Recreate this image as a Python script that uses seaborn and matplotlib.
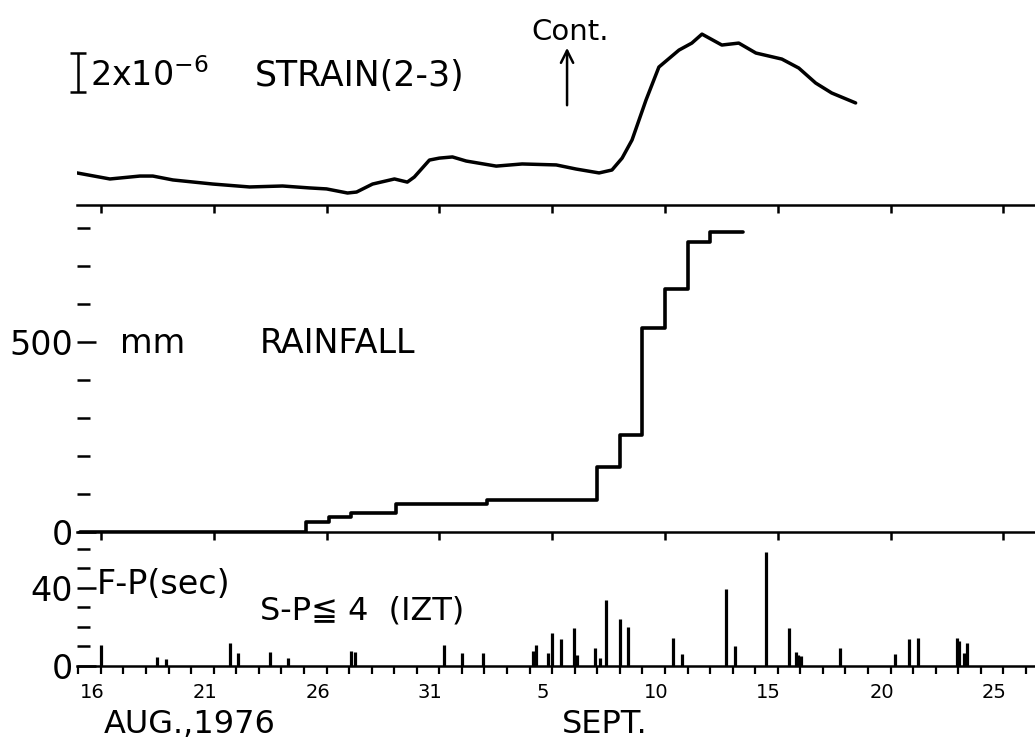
import matplotlib
matplotlib.use('Agg')
import matplotlib.pyplot as plt
import matplotlib.transforms as mtransforms
from matplotlib.ticker import MultipleLocator
import seaborn as sns

# === DATOS ===
# dias contados desde el 1 de agosto (5 de sept. = 36)
strain_day = [14.94, 16.40, 17.73, 18.30, 19.19, 20.96, 22.59, 24.05, 25.25, 26.00,
              26.93, 27.33, 28.04, 29.01, 29.58, 29.89, 30.56, 31.00, 31.58, 32.19,
              33.52, 34.67, 36.18, 37.06, 38.08, 38.65, 39.10, 39.54, 40.16, 40.73,
              41.62, 42.19, 42.64, 43.52, 44.27, 45.03, 46.18, 46.93, 47.68, 48.39, 49.45]
# deformacion en unidades de 1e-6 (relativa)
strain_val = [1.03, 0.72, 0.87, 0.87, 0.67, 0.46, 0.31, 0.36, 0.26, 0.21,
              0.00, 0.05, 0.46, 0.72, 0.56, 0.82, 1.69, 1.79, 1.85, 1.64,
              1.38, 1.49, 1.44, 1.23, 1.03, 1.18, 1.79, 2.72, 4.77, 6.46,
              7.33, 7.69, 8.15, 7.59, 7.69, 7.18, 6.87, 6.41, 5.64, 5.13, 4.62]

# lluvia acumulada (mm)
rain_day = [15.07, 25.1, 26.1, 27.1, 29.1, 33.1, 38.0, 39.0, 40.0, 41.0, 42.0, 43.0, 44.45]
rain_mm = [0, 26, 39, 50, 74, 84, 171, 255, 537, 640, 763, 789, 789]

# F-P (sec) de los sismos con S-P <= 4
fp_day = [16.0, 18.48, 18.88, 21.71, 22.06, 23.48, 24.27, 27.10, 27.28, 31.22,
          32.02, 32.95, 35.16, 35.29, 35.82, 36.00, 36.40, 36.97, 37.10, 37.90,
          38.12, 38.39, 39.00, 39.36, 41.35, 41.75, 43.70, 44.10, 45.47, 46.49,
          46.80, 46.88, 47.02, 48.74, 51.18, 51.80, 52.20, 53.96, 54.05, 54.27, 54.40]
fp_sec = [10.6, 4.5, 3.5, 11.6, 6.6, 7.0, 4.0, 7.5, 7.0, 11.0,
          6.6, 6.6, 7.5, 11.0, 6.6, 17.0, 14.0, 19.7, 5.5, 9.0,
          4.0, 33.8, 24.2, 20.2, 14.6, 6.0, 39.4, 10.0, 58.6, 19.7,
          7.0, 5.5, 5.0, 9.0, 6.0, 13.6, 14.6, 14.6, 13.0, 6.6, 12.0]

major_days = [16, 21, 26, 31, 36, 41, 46, 51, 56]
major_labels = ['16', '21', '26', '31', '5', '10', '15', '20', '25']

# === ESTILO ===
sns.set_theme(style='ticks')
plt.rcParams['font.family'] = ['DejaVu Sans', 'Noto Sans CJK JP']
plt.rcParams['axes.linewidth'] = 1.8
for clave in ['text.color', 'axes.labelcolor', 'xtick.color', 'ytick.color',
              'xtick.labelcolor', 'ytick.labelcolor', 'axes.edgecolor']:
    plt.rcParams[clave] = 'black'

W, H = 1035, 743
fig = plt.figure(figsize=(W / 100, H / 100), dpi=100)


def caja(arriba, abajo):
    return [77 / W, 1 - abajo / H, 1 - 77 / W, (abajo - arriba) / H]


ax_top = fig.add_axes(caja(0, 205))
ax_mid = fig.add_axes(caja(205, 532))
ax_bot = fig.add_axes(caja(532, 666))
xlim = (14.94, 57.4)

# === PANEL SUPERIOR: STRAIN ===
sns.lineplot(x=strain_day, y=strain_val, ax=ax_top, color='black', lw=2.5)
ax_top.set_xlim(*xlim)
ax_top.set_ylim(-0.615, 9.9)
ax_top.set_yticks([])
ax_top.set_xticks(major_days)
ax_top.set_xticklabels([])
ax_top.tick_params(axis='x', direction='out', length=6, width=1.8)
for s in ['top', 'left', 'right']:
    ax_top.spines[s].set_visible(False)

# barra de escala 2x10^-6
eb = ax_top.errorbar([14.97], [6.18], yerr=[[1.0], [1.0]], fmt='none', ecolor='black',
                     elinewidth=1.8, capsize=6, capthick=1.8)
for art in list(eb.lines[1]) + list(eb.lines[2]):
    art.set_clip_on(False)

ax_top.annotate('', xy=(36.66, 7.59), xytext=(36.66, 4.36),
                arrowprops=dict(arrowstyle='->', lw=1.8, color='black', mutation_scale=22))

# === PANEL MEDIO: RAINFALL ===
sns.lineplot(x=rain_day, y=rain_mm, ax=ax_mid, drawstyle='steps-post', color='black', lw=2.6)
ax_mid.set_xlim(*xlim)
ax_mid.set_ylim(0, 860)
ax_mid.set_yticks([0, 500])
ax_mid.yaxis.set_minor_locator(MultipleLocator(100))
ax_mid.set_xticks(major_days)
ax_mid.set_xticklabels([])
ax_mid.tick_params(axis='x', direction='out', length=6, width=1.8)

# === PANEL INFERIOR: F-P ===
ax_bot.vlines(fp_day, 0, fp_sec, color='black', lw=2.3)
ax_bot.set_xlim(*xlim)
ax_bot.set_ylim(0, 68.7)
ax_bot.set_yticks([0, 40])
ax_bot.yaxis.set_minor_locator(MultipleLocator(10))
ax_bot.set_xticks(major_days)
ax_bot.set_xticklabels(major_labels)
ax_bot.xaxis.set_minor_locator(MultipleLocator(1))
ax_bot.tick_params(axis='x', which='both', direction='out', length=6, width=1.6,
                   labelsize=14, pad=6)

desplaza = mtransforms.ScaledTranslation(-9 / 100, 0, fig.dpi_scale_trans)
for lab in ax_bot.get_xticklabels():
    lab.set_transform(lab.get_transform() + desplaza)

for ax in [ax_mid, ax_bot]:
    ax.tick_params(axis='y', which='major', direction='in', length=14, width=1.8,
                   labelsize=24, pad=3)
    ax.tick_params(axis='y', which='minor', direction='in', length=9.5, width=1.8)
    for s in ['top', 'left', 'right']:
        ax.spines[s].set_visible(False)

for ax in [ax_top, ax_mid, ax_bot]:
    ax.set_xlabel('')
    ax.set_ylabel('')
    ax.patch.set_alpha(0)

# === TEXTOS ===
fig.text(90 / W, 1 - 86 / H, r'2x10$^{-6}$', fontsize=24, va='baseline')
fig.text(255 / W, 1 - 86 / H, 'STRAIN(2-3)', fontsize=25, va='baseline')
fig.text(570 / W, 1 - 40 / H, 'Cont.', fontsize=21, ha='center', va='baseline')
fig.text(120 / W, 1 - 353 / H, 'mm', fontsize=24, va='baseline')
fig.text(260 / W, 1 - 353 / H, 'RAINFALL', fontsize=24, va='baseline')
fig.text(97 / W, 1 - 594 / H, 'F-P(sec)', fontsize=24, va='baseline')
fig.text(260 / W, 1 - 620 / H, 'S-P≦ 4  (IZT)', fontsize=23, va='baseline')
fig.text(190 / W, 1 - 733 / H, 'AUG.,1976', fontsize=23, ha='center', va='baseline')
fig.text(562 / W, 1 - 733 / H, 'SEPT.', fontsize=23, va='baseline')

fig.savefig('out.png', dpi=100, facecolor='white')
